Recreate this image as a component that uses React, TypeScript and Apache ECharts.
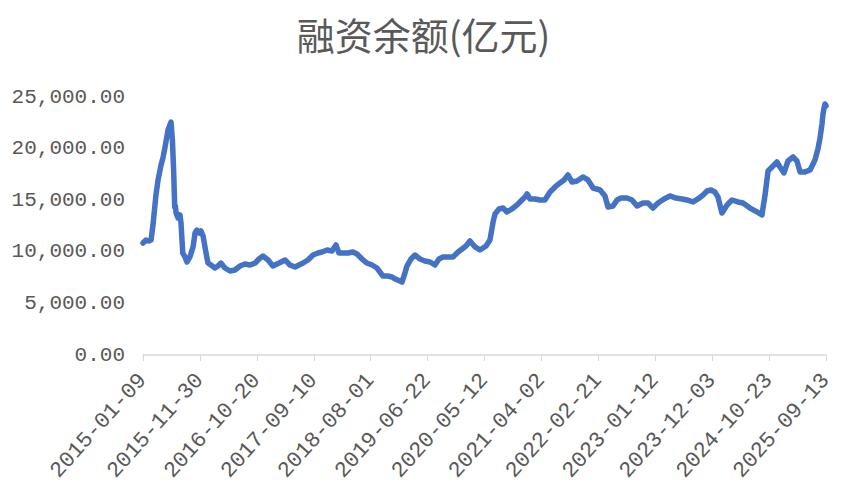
import React, { useEffect, useRef } from "react";
import * as echarts from "echarts";

const title = "融资余额(亿元)";
const startDate = "2015-01-09";
const endDate = "2025-09-13";
const tickStepDays = 325;
const yTicks = [0, 5000, 10000, 15000, 20000, 25000];

const dates = [
  "2015-01-09", "2015-01-26", "2015-02-12", "2015-02-24", "2015-03-07", "2015-03-24", "2015-04-05", "2015-04-22",
  "2015-05-03", "2015-05-15", "2015-06-01", "2015-06-18", "2015-06-26", "2015-07-03", "2015-07-09", "2015-07-13",
  "2015-07-17", "2015-07-28", "2015-08-08", "2015-08-14", "2015-08-24", "2015-09-06", "2015-09-17", "2015-10-04",
  "2015-10-22", "2015-11-02", "2015-11-13", "2015-11-25", "2015-12-06", "2015-12-18", "2016-01-04", "2016-01-15",
  "2016-02-01", "2016-02-24", "2016-03-12", "2016-03-29", "2016-04-21", "2016-05-20", "2016-06-17", "2016-07-16",
  "2016-08-13", "2016-09-11", "2016-10-10", "2016-11-01", "2016-11-24", "2016-12-23", "2017-01-20", "2017-02-24",
  "2017-03-30", "2017-04-27", "2017-05-26", "2017-07-11", "2017-08-08", "2017-09-06", "2017-10-04", "2017-10-27",
  "2017-11-25", "2017-12-23", "2018-01-15", "2018-02-01", "2018-03-02", "2018-03-25", "2018-04-22", "2018-05-15",
  "2018-06-13", "2018-07-11", "2018-08-09", "2018-09-06", "2018-10-10", "2018-11-08", "2018-12-01", "2018-12-20",
  "2019-01-27", "2019-02-13", "2019-02-24", "2019-03-19", "2019-04-11", "2019-05-10", "2019-06-07", "2019-07-06",
  "2019-08-03", "2019-08-26", "2019-09-18", "2019-10-17", "2019-11-14", "2019-12-13", "2020-01-05", "2020-01-27",
  "2020-02-19", "2020-03-19", "2020-04-16", "2020-05-21", "2020-06-12", "2020-06-30", "2020-07-11", "2020-08-03",
  "2020-08-26", "2020-09-17", "2020-10-16", "2020-11-14", "2020-12-06", "2020-12-29", "2021-01-10", "2021-01-27",
  "2021-02-24", "2021-03-25", "2021-04-22", "2021-05-21", "2021-06-19", "2021-07-17", "2021-08-09", "2021-09-01",
  "2021-09-24", "2021-10-22", "2021-11-25", "2021-12-24", "2022-01-22", "2022-03-03", "2022-03-31", "2022-04-17",
  "2022-05-16", "2022-06-08", "2022-06-30", "2022-08-04", "2022-09-01", "2022-09-30", "2022-11-03", "2022-12-02",
  "2022-12-30", "2023-01-28", "2023-03-03", "2023-04-06", "2023-05-10", "2023-06-14", "2023-07-12", "2023-08-16",
  "2023-09-13", "2023-10-12", "2023-11-04", "2023-11-26", "2023-12-19", "2024-01-05", "2024-01-28", "2024-02-26",
  "2024-03-25", "2024-04-28", "2024-05-27", "2024-07-06", "2024-08-15", "2024-09-12", "2024-09-30", "2024-10-17",
  "2024-11-09", "2024-12-07", "2024-12-24", "2025-01-16", "2025-02-08", "2025-03-09", "2025-03-31", "2025-04-18",
  "2025-05-16", "2025-06-14", "2025-07-12", "2025-07-29", "2025-08-10", "2025-08-21", "2025-08-27", "2025-09-02",
  "2025-09-07", "2025-09-13",
];

const balances = [
  10850, 11140, 11050, 11140, 12600, 15500, 16960, 18410,
  19090, 20150, 21800, 22580, 20800, 17900, 14340, 14440,
  13760, 13280, 13570, 12790, 9880, 9500, 9010, 9500,
  10470, 11820, 12110, 11820, 12020, 11530, 9880, 8910,
  8720, 8430, 8620, 8910, 8430, 8140, 8240, 8620,
  8820, 8720, 8910, 9300, 9590, 9210, 8620, 8910,
  9210, 8720, 8530, 8910, 9210, 9690, 9880, 9980,
  10170, 10080, 10660, 9880, 9880, 9880, 9980, 9790,
  9300, 8910, 8720, 8430, 7650, 7650, 7560, 7360,
  7070, 7950, 8620, 9300, 9690, 9300, 9110, 9010,
  8720, 9300, 9500, 9500, 9500, 9980, 10270, 10560,
  11050, 10470, 10170, 10560, 11140, 12890, 13660, 14150,
  14240, 13860, 14150, 14540, 14920, 15310, 15600, 15120,
  15120, 15020, 15020, 15790, 16280, 16670, 16960, 17440,
  16760, 16860, 17250, 16960, 16180, 15990, 15410, 14340,
  14440, 15020, 15210, 15210, 15020, 14440, 14730, 14730,
  14240, 14730, 15120, 15410, 15210, 15120, 15020, 14830,
  15120, 15500, 15890, 15990, 15790, 15310, 13760, 14540,
  15020, 14830, 14730, 14240, 13860, 13570, 15500, 17830,
  18220, 18700, 18220, 17640, 18800, 19190, 18800, 17740,
  17740, 17930, 18900, 19960, 21030, 22380, 23350, 23930,
  24320, 24150,
];

const DAY = 86400000;
const toMs = (s: string) => {
  const [y, m, d] = s.split("-").map(Number);
  return Date.UTC(y, m - 1, d);
};
const t0 = toMs(startDate);
const spanDays = Math.round((toMs(endDate) - t0) / DAY);
const dayLabel = (n: number) => {
  const dt = new Date(t0 + n * DAY);
  const p = (v: number) => String(v).padStart(2, "0");
  return `${dt.getUTCFullYear()}-${p(dt.getUTCMonth() + 1)}-${p(dt.getUTCDate())}`;
};
const fmtNum = (v: number) =>
  v.toLocaleString("en-US", { minimumFractionDigits: 2, maximumFractionDigits: 2 });

export default function App() {
  const ref = useRef<HTMLDivElement>(null);
  useEffect(() => {
    document.body.style.margin = "0";
    const chart = echarts.init(ref.current!, null, { renderer: "svg" });
    const seriesData = dates.map((d, i) => [Math.round((toMs(d) - t0) / DAY), balances[i]]);
    const mono = "'Liberation Mono', 'DejaVu Sans Mono', monospace";
    chart.setOption({
      animation: false,
      backgroundColor: "#ffffff",
      title: {
        text: title,
        left: "center",
        top: 9,
        textStyle: {
          fontFamily: "'Noto Sans CJK SC', sans-serif",
          fontSize: 38,
          fontWeight: "normal",
          color: "#595959",
        },
      },
      grid: { left: 143, right: 21, top: 97, bottom: 143, containLabel: false },
      xAxis: {
        type: "value",
        min: 0,
        max: spanDays,
        interval: tickStepDays,
        splitLine: { show: false },
        axisLine: { show: true, lineStyle: { color: "#d9d9d9", width: 1.5 } },
        axisTick: { show: true, length: 6, lineStyle: { color: "#d9d9d9", width: 1 } },
        axisLabel: {
          rotate: 48,
          margin: 22,
          color: "#595959",
          fontFamily: mono,
          fontSize: 22,
          formatter: (v: number) => dayLabel(v),
        },
      },
      yAxis: {
        type: "value",
        min: yTicks[0],
        max: yTicks[yTicks.length - 1],
        interval: yTicks[1] - yTicks[0],
        splitLine: { show: false },
        axisLine: { show: false },
        axisTick: { show: false },
        axisLabel: {
          margin: 18,
          color: "#595959",
          fontFamily: mono,
          fontSize: 21,
          formatter: (v: number) => fmtNum(v),
        },
      },
      series: [
        {
          type: "line",
          data: seriesData,
          showSymbol: false,
          smooth: false,
          lineStyle: { color: "#4472C4", width: 5.5, join: "round", cap: "round" },
        },
      ],
    });
    return () => chart.dispose();
  }, []);
  return (
    <div
      ref={ref}
      style={{ position: "absolute", left: 0, top: 0, width: 847, height: 498 }}
    />
  );
}
